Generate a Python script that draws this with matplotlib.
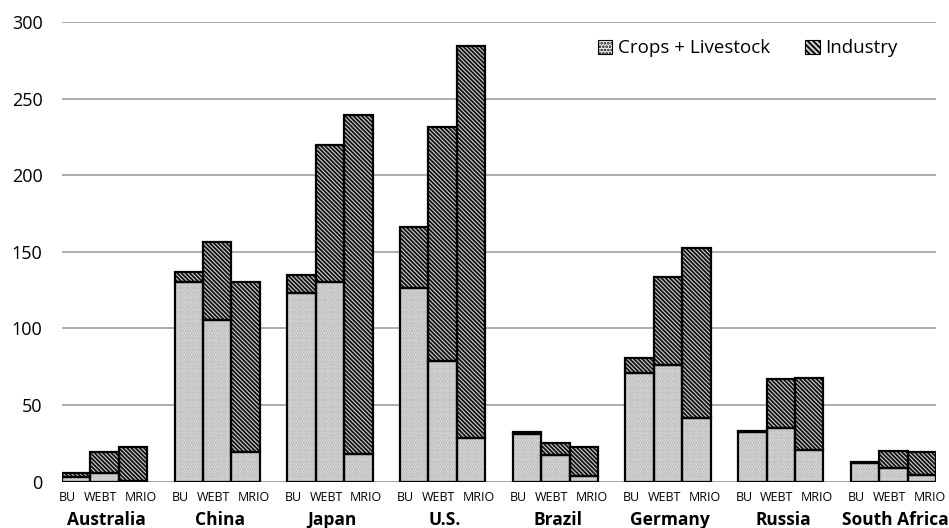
import numpy as np
import matplotlib.pyplot as plt
from matplotlib.patches import Patch
from matplotlib.transforms import blended_transform_factory

countries = ['Australia', 'China', 'Japan', 'U.S.', 'Brazil', 'Germany', 'Russia', 'South Africa']
methods = ['BU', 'WEBT', 'MRIO']

# rows = countries, cols = BU, WEBT, MRIO
crops = np.array([
    [3.3, 5.5, 0.5],
    [130.5, 105.3, 19.2],
    [122.9, 130.4, 17.9],
    [126.5, 78.5, 28.5],
    [31.0, 17.4, 3.7],
    [70.7, 76.1, 41.5],
    [32.6, 35.0, 20.7],
    [12.5, 9.1, 4.4],
])
totals = np.array([
    [5.9, 19.6, 22.6],
    [136.8, 156.2, 130.0],
    [134.6, 219.6, 239.4],
    [166.3, 231.6, 284.2],
    [32.6, 25.4, 22.4],
    [80.5, 133.7, 152.2],
    [33.4, 66.8, 67.8],
    [13.0, 20.2, 19.6],
])
industry = totals - crops

plt.rcParams['font.family'] = ['Open Sans', 'DejaVu Sans']
plt.rcParams['hatch.linewidth'] = 1.3

fig = plt.figure(figsize=(9.49, 5.28), dpi=100)
ax = fig.add_axes([62 / 949, 1 - 481.7 / 528, (936 - 62) / 949, (481.7 - 22) / 528])

w = 0.252
offsets = np.array([-1, 0, 1]) * w
xpos = (np.arange(len(countries))[:, None] + offsets[None, :]).ravel()
c = crops.ravel()
ind = industry.ravel()

crop_face, crop_hatch = '#f8f8f8', '#a0a0a0'
ind_face, ind_hatch = '#d0d0d0', '#111111'
crop_pat = '.' * 7
ind_pat = '\\' * 8

# fills with hatches
ax.bar(xpos, c, w, color=crop_face, edgecolor=crop_hatch, hatch=crop_pat, linewidth=0, zorder=2)
ax.bar(xpos, ind, w, bottom=c, color=ind_face, edgecolor=ind_hatch, hatch=ind_pat, linewidth=0, zorder=2)
# outlines
ax.bar(xpos, c, w, fill=False, edgecolor='black', linewidth=1.6, zorder=3)
ax.bar(xpos, ind, w, bottom=c, fill=False, edgecolor='black', linewidth=1.6, zorder=3)

ax.set_ylim(0, 300)
ax.set_xlim(-1.5 * w, len(countries) - 1 + 1.5 * w)
ax.set_yticks(range(0, 301, 50))
ax.yaxis.grid(True, color='#a6a6a6', linewidth=1.3)
ax.set_axisbelow(True)
for s in ax.spines.values():
    s.set_visible(False)
ax.axhline(0, color='#a6a6a6', linewidth=1.3, zorder=1)

# method labels sit a little wider apart than the bars
label_shift = np.array([-0.075, -0.035, 0.071])
label_pos = (np.arange(len(countries))[:, None] + offsets[None, :] + label_shift[None, :]).ravel()
ax.set_xticks(label_pos)
ax.set_xticklabels(methods * len(countries), fontsize=9)
ax.tick_params(axis='x', length=0, pad=7)
ax.tick_params(axis='y', length=0, pad=14, labelsize=13)

trans = blended_transform_factory(ax.transData, ax.transAxes)
for i, name in enumerate(countries):
    ax.text(i + 0.02, -0.083, name, transform=trans, ha='center', va='center',
            fontsize=12.5, fontweight='bold')

handles = [
    Patch(facecolor=crop_face, edgecolor='black', hatch='.' * 5, linewidth=0.8),
    Patch(facecolor=ind_face, edgecolor='black', hatch='\\' * 6, linewidth=0.8),
]
ax.legend(handles, ['Crops + Livestock', 'Industry'], ncol=2, frameon=False,
          loc='center left', bbox_to_anchor=(0.594, 0.943), fontsize=13.5,
          handlelength=0.75, handleheight=0.75, handletextpad=0.3, columnspacing=1.9)

fig.savefig('out.png', dpi=100)
